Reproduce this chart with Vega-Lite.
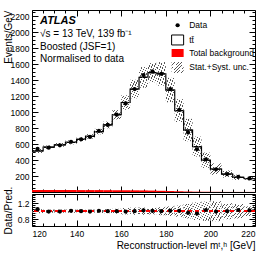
{
  "$schema": "https://vega.github.io/schema/vega-lite/v6.json",
  "padding": {"left": 2, "top": 9, "right": 13, "bottom": 0},
  "spacing": 2,
  "bounds": "flush",
  "config": {
    "view": {"stroke": "black", "strokeWidth": 1},
    "axis": {"grid": false, "domain": false, "tickColor": "black", "tickWidth": 1, "labelColor": "black", "titleColor": "black", "labelFont": "Liberation Sans", "titleFont": "Liberation Sans", "labelFontSize": 8.5, "titleFontSize": 10, "titleFontWeight": "normal", "minExtent": 0},
    "text": {"font": "Liberation Sans", "color": "black"}
  },
  "datasets": {
    "bins": [
      {"x0": 120, "x1": 125, "c": 122.5, "data": 540, "mc": 514, "ulo": 488, "uhi": 540, "bkg": 25, "ratio": 1.05, "rlo": 0.95, "rhi": 1.05},
      {"x0": 125, "x1": 130, "c": 127.5, "data": 555, "mc": 561, "ulo": 539, "uhi": 583, "bkg": 25, "ratio": 0.99, "rlo": 0.96, "rhi": 1.04},
      {"x0": 130, "x1": 135, "c": 132.5, "data": 585, "mc": 591, "ulo": 567, "uhi": 615, "bkg": 25, "ratio": 0.99, "rlo": 0.96, "rhi": 1.04},
      {"x0": 135, "x1": 140, "c": 137.5, "data": 628, "mc": 622, "ulo": 597, "uhi": 647, "bkg": 25, "ratio": 1.01, "rlo": 0.96, "rhi": 1.04},
      {"x0": 140, "x1": 144, "c": 142, "data": 660, "mc": 660, "ulo": 634, "uhi": 686, "bkg": 24, "ratio": 1.0, "rlo": 0.96, "rhi": 1.04},
      {"x0": 144, "x1": 148, "c": 146, "data": 690, "mc": 697, "ulo": 669, "uhi": 725, "bkg": 24, "ratio": 0.99, "rlo": 0.96, "rhi": 1.04},
      {"x0": 148, "x1": 152, "c": 150, "data": 765, "mc": 757, "ulo": 723, "uhi": 791, "bkg": 24, "ratio": 1.01, "rlo": 0.955, "rhi": 1.045},
      {"x0": 152, "x1": 156, "c": 154, "data": 840, "mc": 840, "ulo": 798, "uhi": 882, "bkg": 23, "ratio": 1.0, "rlo": 0.95, "rhi": 1.05},
      {"x0": 156, "x1": 160, "c": 158, "data": 968, "mc": 968, "ulo": 910, "uhi": 1026, "bkg": 22, "ratio": 1.0, "rlo": 0.94, "rhi": 1.06},
      {"x0": 160, "x1": 164, "c": 162, "data": 1110, "mc": 1121, "ulo": 1031, "uhi": 1211, "bkg": 22, "ratio": 0.99, "rlo": 0.92, "rhi": 1.08},
      {"x0": 164, "x1": 168, "c": 166, "data": 1290, "mc": 1290, "ulo": 1174, "uhi": 1406, "bkg": 21, "ratio": 1.0, "rlo": 0.91, "rhi": 1.09},
      {"x0": 168, "x1": 172, "c": 170, "data": 1465, "mc": 1436, "ulo": 1307, "uhi": 1565, "bkg": 20, "ratio": 1.02, "rlo": 0.91, "rhi": 1.09},
      {"x0": 172, "x1": 176, "c": 174, "data": 1510, "mc": 1495, "ulo": 1375, "uhi": 1615, "bkg": 18, "ratio": 1.01, "rlo": 0.92, "rhi": 1.08},
      {"x0": 176, "x1": 180, "c": 178, "data": 1480, "mc": 1480, "ulo": 1332, "uhi": 1628, "bkg": 15, "ratio": 1.0, "rlo": 0.9, "rhi": 1.1},
      {"x0": 180, "x1": 184, "c": 182, "data": 1290, "mc": 1277, "ulo": 1124, "uhi": 1430, "bkg": 12, "ratio": 1.01, "rlo": 0.88, "rhi": 1.12},
      {"x0": 184, "x1": 188, "c": 186, "data": 1030, "mc": 1020, "ulo": 877, "uhi": 1163, "bkg": 9, "ratio": 1.01, "rlo": 0.86, "rhi": 1.14},
      {"x0": 188, "x1": 192, "c": 190, "data": 745, "mc": 776, "ulo": 636, "uhi": 916, "bkg": 6, "ratio": 0.96, "rlo": 0.82, "rhi": 1.18},
      {"x0": 192, "x1": 196, "c": 194, "data": 535, "mc": 569, "ulo": 444, "uhi": 694, "bkg": 4, "ratio": 0.94, "rlo": 0.78, "rhi": 1.22},
      {"x0": 196, "x1": 200, "c": 198, "data": 410, "mc": 398, "ulo": 302, "uhi": 494, "bkg": 3, "ratio": 1.03, "rlo": 0.76, "rhi": 1.24},
      {"x0": 200, "x1": 205, "c": 202.5, "data": 284, "mc": 287, "ulo": 215, "uhi": 359, "bkg": 2, "ratio": 0.99, "rlo": 0.75, "rhi": 1.25},
      {"x0": 205, "x1": 210, "c": 207.5, "data": 225, "mc": 225, "ulo": 180, "uhi": 270, "bkg": 1, "ratio": 1.0, "rlo": 0.8, "rhi": 1.2},
      {"x0": 210, "x1": 215, "c": 212.5, "data": 190, "mc": 184, "ulo": 151, "uhi": 217, "bkg": 1, "ratio": 1.03, "rlo": 0.82, "rhi": 1.18},
      {"x0": 215, "x1": 220, "c": 217.5, "data": 170, "mc": 167, "ulo": 147, "uhi": 187, "bkg": 1, "ratio": 1.02, "rlo": 0.88, "rhi": 1.12}
    ]
  },
  "vconcat": [
    {
      "width": 223,
      "height": 182,
      "data": {"name": "bins"},
      "resolve": {"axis": {"x": "independent", "y": "independent"}},
      "layer": [
        {
          "mark": {"type": "rect", "fill": "#ff0000", "stroke": null},
          "encoding": {
            "x": {"field": "x0", "type": "quantitative", "scale": {"domain": [120, 220], "nice": false}, "axis": {"orient": "bottom", "values": [120, 140, 160, 180, 200, 220], "tickSize": -6, "labels": false, "title": null, "maxExtent": 0}},
            "x2": {"field": "x1"},
            "y": {"field": "bkg", "type": "quantitative", "scale": {"domain": [0, 2280], "nice": false, "zero": false}, "axis": {"orient": "left", "values": [200, 400, 600, 800, 1000, 1200, 1400, 1600, 1800, 2000, 2200], "format": "d", "tickSize": -6, "labelPadding": 9, "title": "Events/GeV", "titleAnchor": "end", "titleX": -19}},
            "y2": {"datum": 0}
          }
        },
        {
          "mark": {"type": "rule", "color": "black", "strokeWidth": 1.2},
          "encoding": {
            "x": {"field": "x0", "type": "quantitative", "scale": {"domain": [120, 220], "nice": false}, "axis": {"orient": "bottom", "values": [125, 130, 135, 145, 150, 155, 165, 170, 175, 185, 190, 195, 205, 210, 215], "tickSize": -3, "labels": false, "title": null, "maxExtent": 0}},
            "x2": {"field": "x1"},
            "y": {"field": "mc", "type": "quantitative", "scale": {"domain": [0, 2280], "nice": false, "zero": false}, "axis": {"orient": "left", "values": [50, 100, 150, 250, 300, 350, 450, 500, 550, 650, 700, 750, 850, 900, 950, 1050, 1100, 1150, 1250, 1300, 1350, 1450, 1500, 1550, 1650, 1700, 1750, 1850, 1900, 1950, 2050, 2100, 2150, 2250], "tickSize": -3, "labels": false, "title": null, "maxExtent": 0}}
          }
        },
        {
          "mark": {"type": "line", "interpolate": "step-after", "color": "black", "strokeWidth": 1.2},
          "encoding": {
            "x": {"field": "x0", "type": "quantitative", "scale": {"domain": [120, 220], "nice": false}, "axis": {"orient": "top", "values": [120, 140, 160, 180, 200, 220], "tickSize": -6, "labels": false, "title": null, "maxExtent": 0}},
            "y": {"field": "mc", "type": "quantitative", "scale": {"domain": [0, 2280], "nice": false, "zero": false}, "axis": {"orient": "right", "values": [200, 400, 600, 800, 1000, 1200, 1400, 1600, 1800, 2000, 2200], "tickSize": -6, "labels": false, "title": null, "maxExtent": 0}}
          }
        },
        {
          "mark": {"type": "rect", "stroke": null, "fill": {"gradient": "linear", "x1": 0, "y1": 0, "x2": 1, "y2": 1, "stops": [
            {"offset": 0, "color": "#555555"}, {"offset": 0.035, "color": "#555555"}, {"offset": 0.035, "color": "rgba(255,255,255,0)"}, {"offset": 0.1429, "color": "rgba(255,255,255,0)"},
            {"offset": 0.1429, "color": "#555555"}, {"offset": 0.1779, "color": "#555555"}, {"offset": 0.1779, "color": "rgba(255,255,255,0)"}, {"offset": 0.2857, "color": "rgba(255,255,255,0)"},
            {"offset": 0.2857, "color": "#555555"}, {"offset": 0.3207, "color": "#555555"}, {"offset": 0.3207, "color": "rgba(255,255,255,0)"}, {"offset": 0.4286, "color": "rgba(255,255,255,0)"},
            {"offset": 0.4286, "color": "#555555"}, {"offset": 0.4636, "color": "#555555"}, {"offset": 0.4636, "color": "rgba(255,255,255,0)"}, {"offset": 0.5714, "color": "rgba(255,255,255,0)"},
            {"offset": 0.5714, "color": "#555555"}, {"offset": 0.6064, "color": "#555555"}, {"offset": 0.6064, "color": "rgba(255,255,255,0)"}, {"offset": 0.7143, "color": "rgba(255,255,255,0)"},
            {"offset": 0.7143, "color": "#555555"}, {"offset": 0.7493, "color": "#555555"}, {"offset": 0.7493, "color": "rgba(255,255,255,0)"}, {"offset": 0.8571, "color": "rgba(255,255,255,0)"},
            {"offset": 0.8571, "color": "#555555"}, {"offset": 0.8921, "color": "#555555"}, {"offset": 0.8921, "color": "rgba(255,255,255,0)"}, {"offset": 1, "color": "rgba(255,255,255,0)"}]}},
          "encoding": {
            "x": {"field": "x0", "type": "quantitative", "scale": {"domain": [120, 220], "nice": false}, "axis": {"orient": "top", "values": [125, 130, 135, 145, 150, 155, 165, 170, 175, 185, 190, 195, 205, 210, 215], "tickSize": -3, "labels": false, "title": null, "maxExtent": 0}},
            "x2": {"field": "x1"},
            "y": {"field": "ulo", "type": "quantitative", "scale": {"domain": [0, 2280], "nice": false, "zero": false}, "axis": {"orient": "right", "values": [50, 100, 150, 250, 300, 350, 450, 500, 550, 650, 700, 750, 850, 900, 950, 1050, 1100, 1150, 1250, 1300, 1350, 1450, 1500, 1550, 1650, 1700, 1750, 1850, 1900, 1950, 2050, 2100, 2150, 2250], "tickSize": -3, "labels": false, "title": null, "maxExtent": 0}},
            "y2": {"field": "uhi"}
          }
        },
        {
          "mark": {"type": "point", "filled": true, "color": "black", "size": 18, "opacity": 1},
          "encoding": {
            "x": {"field": "c", "type": "quantitative", "scale": {"domain": [120, 220], "nice": false}, "axis": null},
            "y": {"field": "data", "type": "quantitative", "scale": {"domain": [0, 2280], "nice": false, "zero": false}, "axis": null}
          }
        },
        {
          "data": {"values": [{}]},
          "mark": {"type": "text", "text": "ATLAS", "align": "left", "baseline": "middle", "fontSize": 11, "fontWeight": "bold", "fontStyle": "italic"},
          "encoding": {"x": {"datum": 123.6, "type": "quantitative", "scale": {"domain": [120, 220], "nice": false}, "axis": null}, "y": {"datum": 2143, "type": "quantitative", "scale": {"domain": [0, 2280], "nice": false, "zero": false}, "axis": null}}
        },
        {
          "data": {"values": [{}]},
          "mark": {"type": "text", "text": "√s = 13 TeV, 139 fb⁻¹", "align": "left", "baseline": "middle", "fontSize": 10},
          "encoding": {"x": {"datum": 123.6, "type": "quantitative", "scale": {"domain": [120, 220], "nice": false}, "axis": null}, "y": {"datum": 1980, "type": "quantitative", "scale": {"domain": [0, 2280], "nice": false, "zero": false}, "axis": null}}
        },
        {
          "data": {"values": [{}]},
          "mark": {"type": "text", "text": "Boosted (JSF=1)", "align": "left", "baseline": "middle", "fontSize": 10},
          "encoding": {"x": {"datum": 123.6, "type": "quantitative", "scale": {"domain": [120, 220], "nice": false}, "axis": null}, "y": {"datum": 1817, "type": "quantitative", "scale": {"domain": [0, 2280], "nice": false, "zero": false}, "axis": null}}
        },
        {
          "data": {"values": [{}]},
          "mark": {"type": "text", "text": "Normalised to data", "align": "left", "baseline": "middle", "fontSize": 10},
          "encoding": {"x": {"datum": 123.6, "type": "quantitative", "scale": {"domain": [120, 220], "nice": false}, "axis": null}, "y": {"datum": 1667, "type": "quantitative", "scale": {"domain": [0, 2280], "nice": false, "zero": false}, "axis": null}}
        },
        {
          "data": {"values": [{}]},
          "mark": {"type": "point", "filled": true, "color": "black", "size": 18, "opacity": 1},
          "encoding": {"x": {"datum": 185.3, "type": "quantitative", "scale": {"domain": [120, 220], "nice": false}, "axis": null}, "y": {"datum": 2089, "type": "quantitative", "scale": {"domain": [0, 2280], "nice": false, "zero": false}, "axis": null}}
        },
        {
          "data": {"values": [{}]},
          "mark": {"type": "rect", "fill": "white", "stroke": "black", "strokeWidth": 1},
          "encoding": {"x": {"datum": 182.6, "type": "quantitative", "scale": {"domain": [120, 220], "nice": false}, "axis": null}, "x2": {"datum": 188}, "y": {"datum": 1842, "type": "quantitative", "scale": {"domain": [0, 2280], "nice": false, "zero": false}, "axis": null}, "y2": {"datum": 1967}}
        },
        {
          "data": {"values": [{}]},
          "mark": {"type": "rect", "fill": "#ff0000", "stroke": null},
          "encoding": {"x": {"datum": 182.6, "type": "quantitative", "scale": {"domain": [120, 220], "nice": false}, "axis": null}, "x2": {"datum": 188}, "y": {"datum": 1692, "type": "quantitative", "scale": {"domain": [0, 2280], "nice": false, "zero": false}, "axis": null}, "y2": {"datum": 1792}}
        },
        {
          "data": {"values": [{}]},
          "mark": {"type": "rect", "stroke": null, "fill": {"gradient": "linear", "x1": 0, "y1": 0, "x2": 1, "y2": 1, "stops": [
            {"offset": 0, "color": "#555555"}, {"offset": 0.035, "color": "#555555"}, {"offset": 0.035, "color": "rgba(255,255,255,0)"}, {"offset": 0.1429, "color": "rgba(255,255,255,0)"},
            {"offset": 0.1429, "color": "#555555"}, {"offset": 0.1779, "color": "#555555"}, {"offset": 0.1779, "color": "rgba(255,255,255,0)"}, {"offset": 0.2857, "color": "rgba(255,255,255,0)"},
            {"offset": 0.2857, "color": "#555555"}, {"offset": 0.3207, "color": "#555555"}, {"offset": 0.3207, "color": "rgba(255,255,255,0)"}, {"offset": 0.4286, "color": "rgba(255,255,255,0)"},
            {"offset": 0.4286, "color": "#555555"}, {"offset": 0.4636, "color": "#555555"}, {"offset": 0.4636, "color": "rgba(255,255,255,0)"}, {"offset": 0.5714, "color": "rgba(255,255,255,0)"},
            {"offset": 0.5714, "color": "#555555"}, {"offset": 0.6064, "color": "#555555"}, {"offset": 0.6064, "color": "rgba(255,255,255,0)"}, {"offset": 0.7143, "color": "rgba(255,255,255,0)"},
            {"offset": 0.7143, "color": "#555555"}, {"offset": 0.7493, "color": "#555555"}, {"offset": 0.7493, "color": "rgba(255,255,255,0)"}, {"offset": 0.8571, "color": "rgba(255,255,255,0)"},
            {"offset": 0.8571, "color": "#555555"}, {"offset": 0.8921, "color": "#555555"}, {"offset": 0.8921, "color": "rgba(255,255,255,0)"}, {"offset": 1, "color": "rgba(255,255,255,0)"}]}},
          "encoding": {"x": {"datum": 182.6, "type": "quantitative", "scale": {"domain": [120, 220], "nice": false}, "axis": null}, "x2": {"datum": 188}, "y": {"datum": 1491, "type": "quantitative", "scale": {"domain": [0, 2280], "nice": false, "zero": false}, "axis": null}, "y2": {"datum": 1629}}
        },
        {
          "data": {"values": [{}]},
          "mark": {"type": "text", "text": "Data", "align": "left", "baseline": "middle", "fontSize": 8.5},
          "encoding": {"x": {"datum": 190.5, "type": "quantitative", "scale": {"domain": [120, 220], "nice": false}, "axis": null}, "y": {"datum": 2092, "type": "quantitative", "scale": {"domain": [0, 2280], "nice": false, "zero": false}, "axis": null}}
        },
        {
          "data": {"values": [{}]},
          "mark": {"type": "text", "text": "tt̄", "align": "left", "baseline": "middle", "fontSize": 8.5},
          "encoding": {"x": {"datum": 190.5, "type": "quantitative", "scale": {"domain": [120, 220], "nice": false}, "axis": null}, "y": {"datum": 1905, "type": "quantitative", "scale": {"domain": [0, 2280], "nice": false, "zero": false}, "axis": null}}
        },
        {
          "data": {"values": [{}]},
          "mark": {"type": "text", "text": "Total background", "align": "left", "baseline": "middle", "fontSize": 8.5},
          "encoding": {"x": {"datum": 190.5, "type": "quantitative", "scale": {"domain": [120, 220], "nice": false}, "axis": null}, "y": {"datum": 1742, "type": "quantitative", "scale": {"domain": [0, 2280], "nice": false, "zero": false}, "axis": null}}
        },
        {
          "data": {"values": [{}]},
          "mark": {"type": "text", "text": "Stat.+Syst. unc.", "align": "left", "baseline": "middle", "fontSize": 8.5},
          "encoding": {"x": {"datum": 190.5, "type": "quantitative", "scale": {"domain": [120, 220], "nice": false}, "axis": null}, "y": {"datum": 1566, "type": "quantitative", "scale": {"domain": [0, 2280], "nice": false, "zero": false}, "axis": null}}
        }
      ]
    },
    {
      "width": 223,
      "height": 32,
      "data": {"name": "bins"},
      "resolve": {"axis": {"x": "independent", "y": "independent"}},
      "layer": [
        {
          "mark": {"type": "rect", "stroke": null, "fill": {"gradient": "linear", "x1": 0, "y1": 0, "x2": 1, "y2": 1, "stops": [
            {"offset": 0, "color": "#555555"}, {"offset": 0.035, "color": "#555555"}, {"offset": 0.035, "color": "rgba(255,255,255,0)"}, {"offset": 0.1429, "color": "rgba(255,255,255,0)"},
            {"offset": 0.1429, "color": "#555555"}, {"offset": 0.1779, "color": "#555555"}, {"offset": 0.1779, "color": "rgba(255,255,255,0)"}, {"offset": 0.2857, "color": "rgba(255,255,255,0)"},
            {"offset": 0.2857, "color": "#555555"}, {"offset": 0.3207, "color": "#555555"}, {"offset": 0.3207, "color": "rgba(255,255,255,0)"}, {"offset": 0.4286, "color": "rgba(255,255,255,0)"},
            {"offset": 0.4286, "color": "#555555"}, {"offset": 0.4636, "color": "#555555"}, {"offset": 0.4636, "color": "rgba(255,255,255,0)"}, {"offset": 0.5714, "color": "rgba(255,255,255,0)"},
            {"offset": 0.5714, "color": "#555555"}, {"offset": 0.6064, "color": "#555555"}, {"offset": 0.6064, "color": "rgba(255,255,255,0)"}, {"offset": 0.7143, "color": "rgba(255,255,255,0)"},
            {"offset": 0.7143, "color": "#555555"}, {"offset": 0.7493, "color": "#555555"}, {"offset": 0.7493, "color": "rgba(255,255,255,0)"}, {"offset": 0.8571, "color": "rgba(255,255,255,0)"},
            {"offset": 0.8571, "color": "#555555"}, {"offset": 0.8921, "color": "#555555"}, {"offset": 0.8921, "color": "rgba(255,255,255,0)"}, {"offset": 1, "color": "rgba(255,255,255,0)"}]}},
          "encoding": {
            "x": {"field": "x0", "type": "quantitative", "scale": {"domain": [120, 220], "nice": false}, "axis": {"orient": "bottom", "values": [120, 140, 160, 180, 200, 220], "tickSize": -6, "labelPadding": 9, "title": "Reconstruction-level mᵗ,ʰ [GeV]", "titleAnchor": "end", "titleY": 14}},
            "x2": {"field": "x1"},
            "y": {"field": "rlo", "type": "quantitative", "scale": {"domain": [0.63, 1.43], "nice": false, "zero": false}, "axis": {"orient": "left", "values": [0.8, 1.0, 1.2], "format": ".2~f", "tickSize": -6, "labelPadding": 9, "title": "Data/Pred.", "titleX": -19}},
            "y2": {"field": "rhi"}
          }
        },
        {
          "mark": {"type": "rule", "color": "#ff0000", "strokeDash": [4, 3], "strokeWidth": 1},
          "encoding": {
            "y": {"datum": 1, "type": "quantitative", "scale": {"domain": [0.63, 1.43], "nice": false, "zero": false}, "axis": null}
          }
        },
        {
          "mark": {"type": "point", "opacity": 0},
          "encoding": {
            "x": {"field": "c", "type": "quantitative", "scale": {"domain": [120, 220], "nice": false}, "axis": {"orient": "bottom", "values": [125, 130, 135, 145, 150, 155, 165, 170, 175, 185, 190, 195, 205, 210, 215], "tickSize": -3, "labels": false, "title": null, "maxExtent": 0}},
            "y": {"field": "ratio", "type": "quantitative", "scale": {"domain": [0.63, 1.43], "nice": false, "zero": false}, "axis": {"orient": "left", "values": [0.65, 0.7, 0.75, 0.85, 0.9, 0.95, 1.05, 1.1, 1.15, 1.25, 1.3, 1.35, 1.4], "tickSize": -3, "labels": false, "title": null, "maxExtent": 0}}
          }
        },
        {
          "mark": {"type": "point", "opacity": 0},
          "encoding": {
            "x": {"field": "c", "type": "quantitative", "scale": {"domain": [120, 220], "nice": false}, "axis": {"orient": "top", "values": [125, 130, 135, 145, 150, 155, 165, 170, 175, 185, 190, 195, 205, 210, 215], "tickSize": -3, "labels": false, "title": null, "maxExtent": 0}},
            "y": {"field": "ratio", "type": "quantitative", "scale": {"domain": [0.63, 1.43], "nice": false, "zero": false}, "axis": {"orient": "right", "values": [0.65, 0.7, 0.75, 0.85, 0.9, 0.95, 1.05, 1.1, 1.15, 1.25, 1.3, 1.35, 1.4], "tickSize": -3, "labels": false, "title": null, "maxExtent": 0}}
          }
        },
        {
          "mark": {"type": "point", "filled": true, "color": "black", "size": 18, "opacity": 1},
          "encoding": {
            "x": {"field": "c", "type": "quantitative", "scale": {"domain": [120, 220], "nice": false}, "axis": {"orient": "top", "values": [120, 140, 160, 180, 200, 220], "tickSize": -6, "labels": false, "title": null, "maxExtent": 0}},
            "y": {"field": "ratio", "type": "quantitative", "scale": {"domain": [0.63, 1.43], "nice": false, "zero": false}, "axis": {"orient": "right", "values": [0.8, 1.0, 1.2], "tickSize": -6, "labels": false, "title": null, "maxExtent": 0}}
          }
        }
      ]
    }
  ]
}
